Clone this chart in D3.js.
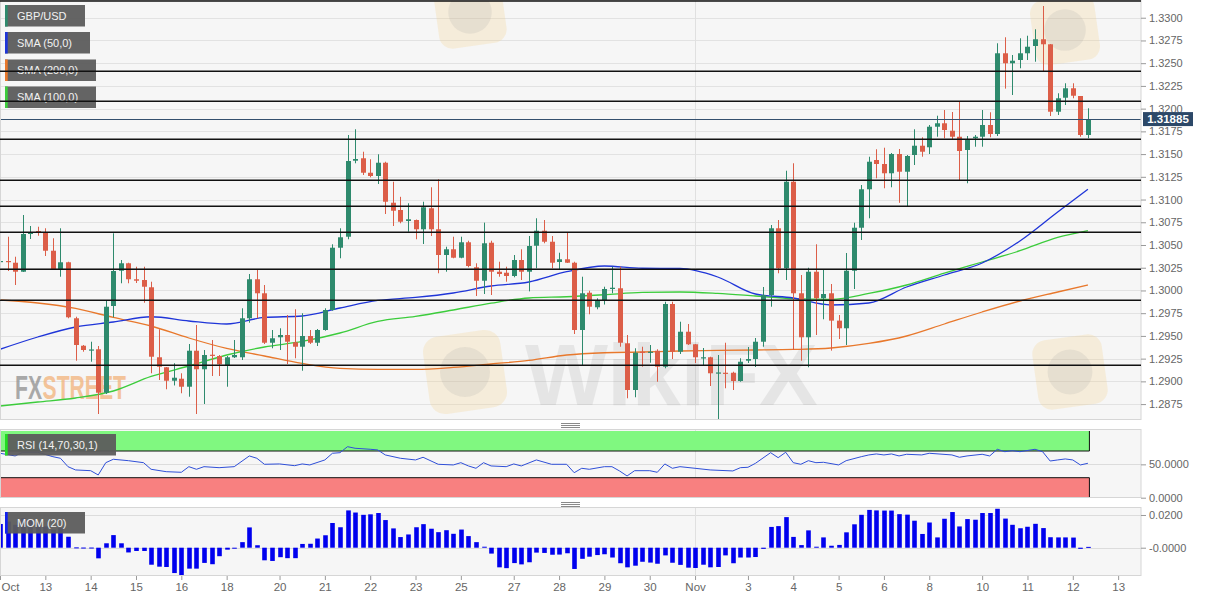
<!DOCTYPE html>
<html><head><meta charset="utf-8">
<script src="https://cdn.jsdelivr.net/npm/d3@7"></script>
<style>html,body{margin:0;padding:0;background:#fff;} svg{display:block;font-family:"Liberation Sans",Arial,sans-serif;}</style>
</head><body><svg id="c" width="1212" height="602"></svg>
<script>
// ---------- DATA (4h GBP/USD candles, index 0 = Oct 12 00:00) ----------
const open = [
1.30319,1.30324,1.30305,1.30206,1.30621,1.30654,1.3064,1.30437,1.30233,1.3031,
1.29694,1.29392,1.29345,1.29353,1.28875,1.29829,1.30217,1.30299,1.30123,1.30115,
1.30035,1.29265,1.29155,1.29007,1.29029,1.28941,1.29337,1.29133,1.29293,1.29279,
1.2918,1.29265,1.29265,1.29694,1.30123,1.29969,1.29425,1.29485,1.2951,1.2943,
1.29381,1.29499,1.29425,1.29565,1.29785,1.3047,1.30591,1.31427,1.31454,1.31295,
1.31259,1.31405,1.30965,1.30885,1.30764,1.30775,1.30673,1.30904,1.30673,1.3039,
1.30453,1.3036,1.3053,1.30255,1.30107,1.30525,1.30206,1.30195,1.30159,1.30335,
1.30206,1.30492,1.30657,1.30536,1.30313,1.30343,1.30305,1.29565,1.29975,1.29815,
1.29895,1.30016,1.30024,1.29419,1.28905,1.29326,1.2932,1.29337,1.29161,1.29851,
1.29326,1.29546,1.29408,1.29261,1.29265,1.29092,1.29095,1.29095,1.29004,1.29227,
1.29246,1.29436,1.2995,1.30684,1.30244,1.31196,1.29969,1.29485,1.30206,1.29914,
1.29969,1.29668,1.29584,1.30217,1.3069,1.31113,1.31435,1.31391,1.31289,1.31501,
1.31306,1.3149,1.31592,1.31575,1.31801,1.31839,1.31757,1.31691,1.31545,1.31674,
1.31691,1.3182,1.31721,1.32609,1.32499,1.32535,1.32609,1.32689,1.32763,1.32708,
1.31966,1.3212,1.32224,1.32139,1.3171];
const high = [
1.30368,1.30591,1.30371,1.3083,1.30709,1.30701,1.30684,1.30574,1.30684,1.30316,
1.29711,1.294,1.29436,1.29389,1.29895,1.30629,1.30335,1.30305,1.30261,1.30261,
1.30096,1.29573,1.29158,1.29199,1.29089,1.29411,1.2962,1.29345,1.29455,1.2929,
1.29279,1.29455,1.29804,1.30181,1.30236,1.3006,1.29565,1.29584,1.2973,1.29793,
1.29749,1.29565,1.29576,1.29804,1.30508,1.30684,1.3171,1.31773,1.31526,1.31443,
1.31498,1.31416,1.31196,1.3103,1.30959,1.3078,1.30976,1.31135,1.31223,1.30481,
1.30591,1.30591,1.30547,1.30299,1.30746,1.30547,1.30316,1.30261,1.3039,1.30453,
1.30599,1.30794,1.30775,1.30599,1.30415,1.30635,1.30316,1.30151,1.29997,1.29914,
1.30041,1.30261,1.30261,1.2951,1.29364,1.29381,1.294,1.29353,1.29876,1.29876,
1.29656,1.29631,1.29411,1.29367,1.29271,1.2929,1.29425,1.29106,1.29254,1.29378,
1.29477,1.30038,1.3072,1.30775,1.31317,1.31399,1.3017,1.3025,1.30508,1.30233,
1.30071,1.2973,1.30412,1.30745,1.3116,1.31471,1.31553,1.3157,1.31512,1.31556,
1.3149,1.31773,1.31685,1.3182,1.31922,1.31985,1.31963,1.32076,1.31699,1.3171,
1.31985,1.3196,1.32719,1.32785,1.3259,1.32774,1.32802,1.32873,1.33129,1.32711,
1.32169,1.32279,1.32279,1.32139,1.32004];
const low = [
1.30225,1.30214,1.3006,1.30203,1.30566,1.30602,1.30379,1.3023,1.30151,1.29694,
1.29227,1.29326,1.29216,1.28641,1.28861,1.29705,1.30079,1.30079,1.30082,1.29865,
1.29089,1.29015,1.28913,1.28955,1.28869,1.28831,1.28641,1.28751,1.29059,1.29059,
1.28941,1.29257,1.29235,1.29645,1.29694,1.29411,1.29364,1.29345,1.29191,1.29254,
1.29117,1.29411,1.29389,1.29557,1.29777,1.30354,1.30563,1.31399,1.3127,1.31245,
1.31171,1.30841,1.30709,1.30739,1.30646,1.30563,1.30511,1.30599,1.30189,1.30206,
1.30354,1.30354,1.30255,1.29939,1.29961,1.2995,1.30151,1.30096,1.30145,1.30115,
1.2999,1.30244,1.30519,1.30244,1.30233,1.30302,1.29521,1.2918,1.29738,1.29793,
1.29845,1.29969,1.29381,1.28814,1.28825,1.29161,1.29205,1.28996,1.29144,1.29246,
1.29301,1.294,1.29202,1.29169,1.28949,1.28575,1.28924,1.28905,1.28996,1.29202,
1.29158,1.29381,1.29821,1.30189,1.30115,1.29345,1.29227,1.29155,1.2951,1.29683,
1.29338,1.29466,1.294,1.30016,1.30555,1.30794,1.31234,1.31124,1.31135,1.30964,
1.30929,1.3138,1.31471,1.31501,1.31691,1.31674,1.31655,1.31215,1.31179,1.31581,
1.31581,1.31685,1.31699,1.3222,1.3215,1.32444,1.32535,1.32516,1.32406,1.31919,
1.3193,1.3204,1.32114,1.31691,1.31674];
const close = [
1.30324,1.30313,1.30206,1.30621,1.30643,1.30638,1.30437,1.30233,1.3031,1.29705,
1.294,1.29345,1.29351,1.28875,1.29821,1.30214,1.30299,1.30123,1.30107,1.30041,
1.29271,1.29161,1.29007,1.2904,1.28941,1.29337,1.29133,1.2929,1.29282,1.29188,
1.29265,1.2929,1.29694,1.30123,1.29969,1.29425,1.29474,1.2951,1.29436,1.29381,
1.29499,1.29425,1.29565,1.29785,1.3047,1.30585,1.31424,1.31446,1.31295,1.31259,
1.31405,1.30976,1.30877,1.30756,1.30783,1.30673,1.30915,1.30673,1.3039,1.30453,
1.3036,1.3053,1.30269,1.30107,1.30519,1.30206,1.30181,1.30159,1.30335,1.30206,
1.30489,1.30657,1.30536,1.30305,1.30343,1.30305,1.29565,1.29969,1.29821,1.29895,
1.30016,1.3003,1.29425,1.28905,1.29315,1.2932,1.29326,1.29161,1.29851,1.29326,
1.29546,1.29408,1.29265,1.29265,1.29089,1.29098,1.29089,1.29004,1.29216,1.29246,
1.29436,1.2995,1.30684,1.30244,1.31196,1.29969,1.29485,1.30206,1.29914,1.29961,
1.29668,1.29584,1.30217,1.3069,1.31113,1.31416,1.31391,1.31289,1.31501,1.31306,
1.31479,1.31592,1.31526,1.31801,1.31839,1.31765,1.31691,1.31534,1.31663,1.31691,
1.3182,1.31721,1.32609,1.32499,1.32527,1.32609,1.32681,1.32763,1.32708,1.31966,
1.32114,1.32224,1.32142,1.3171,1.31885];

// moving averages sampled at candle indices
const smaIdx = [0,5,10,15,20,25,30,35,40,45,50,55,60,65,70,75,80,85,90,95,100,105,110,115,120,125,130,135,140,144];
const sma50  = [1.29353,1.29488,1.29598,1.29653,1.29711,1.29664,1.29631,1.29703,1.29719,1.29807,1.2989,1.29923,1.29972,1.30049,1.30093,1.30206,1.30269,1.30244,1.30242,1.30148,1.29961,1.29917,1.2984,1.29862,1.30038,1.3017,1.30302,1.30544,1.30863,1.31113];
const sma100 = [1.28729,1.28773,1.28817,1.28894,1.29054,1.29169,1.2929,1.29378,1.29439,1.29532,1.29659,1.29714,1.29785,1.2986,1.29917,1.29931,1.29953,1.29978,1.29983,1.29967,1.29939,1.2991,1.29902,1.29967,1.3006,1.3019,1.30313,1.30437,1.30583,1.30657];
const sma200 = [1.29895,1.29862,1.29802,1.29703,1.29609,1.29477,1.29362,1.29279,1.29197,1.29142,1.29131,1.29131,1.29153,1.29191,1.2923,1.2929,1.29315,1.29323,1.29334,1.2934,1.29345,1.29351,1.29367,1.29417,1.29499,1.29631,1.29763,1.29884,1.29983,1.3006];

// horizontal support / resistance levels
const levels = [1.33184,1.32411,1.32081,1.31663,1.31212,1.30926,1.3064,1.30233,1.29892,1.29177];
const lastPrice = 1.31885;

// RSI (14) [candle index, value]
const rsiPoints = [[0,66.6],[2,62.6],[3,68.1],[5,68.1],[7,61.5],[8,59.1],[9,46.5],[10,41.6],[12,40.5],[13,34.1],[14,52.5],[15,57.6],[17,55.5],[19,52.5],[20,42.6],[22,39],[24,38.1],[25,46.5],[26,42.6],[27,46.5],[29,45],[31,46.5],[33,62.6],[34,59.1],[35,50.1],[37,50.6],[39,48],[40,50.6],[41,49.1],[43,56.6],[44,66.6],[45,67.5],[46,76.5],[47,74.1],[49,72.6],[50,71.6],[51,64.1],[53,59.1],[55,56.6],[56,60.6],[58,50.1],[60,49.1],[61,52.5],[62,47.6],[63,44.1],[64,52.5],[65,47.6],[67,46.5],[68,50.6],[69,47.6],[71,56.6],[73,50.1],[75,50.1],[76,37.5],[77,44.1],[78,42.6],[80,46.5],[81,46.5],[82,40.1],[83,32.6],[84,40.5],[86,40.5],[87,38.1],[88,50.6],[89,44.1],[90,46.5],[92,44.1],[94,41.6],[97,40.1],[98,45],[99,45.6],[100,51.6],[102,67.5],[103,60],[104,68.1],[105,52.5],[106,50.1],[107,55.5],[108,52.5],[109,53.1],[111,49.1],[112,55.5],[114,61.5],[115,64.1],[116,65.6],[117,64.1],[118,65.6],[119,62.6],[120,65.1],[122,64.1],[123,66.6],[126,64.1],[127,60.6],[128,62.6],[130,65.1],[131,62.6],[132,72.6],[133,69],[134,70.5],[135,69],[137,72.6],[138,69],[139,55],[140,56.6],[141,58.1],[142,56.6],[143,49.1],[144,51.6]];

// Momentum (20), one per candle
const mom = [
0.0145,0.016,0.014,0.018,0.017,0.015,0.013,0.011,0.012,0.0067,0.0002,0.0001,0.0001,-0.0065,0.0027,0.0077,0.0027,-0.0029,-0.002,-0.002,
-0.0104,-0.0116,-0.0118,-0.0155,-0.0168,-0.0128,-0.0128,-0.0093,-0.0101,-0.0052,-0.0012,-0.0005,0.0034,0.0124,0.0015,-0.0077,-0.0081,-0.0058,-0.0064,-0.0064,
0.0023,0.0024,0.0056,0.0076,0.0151,0.0125,0.0228,0.0215,0.0201,0.0204,0.0212,0.0169,0.0118,0.0065,0.0081,0.0125,0.0144,0.0116,0.0095,0.0107,
0.0085,0.0111,0.0071,0.0034,0.0006,-0.0036,-0.012,-0.0125,-0.0094,-0.0102,-0.0089,-0.003,-0.0032,-0.0043,-0.0042,-0.0034,-0.013,-0.0068,-0.0055,-0.0045,
-0.004,-0.006,-0.0095,-0.012,-0.011,-0.0086,-0.0091,-0.0098,-0.0047,-0.0092,-0.0105,-0.0122,-0.0124,-0.0104,-0.012,-0.0118,-0.0047,-0.0095,-0.006,-0.006,
-0.0057,-0.0007,0.0127,0.0132,0.0187,0.0066,0.0016,0.0106,0.0006,0.0063,0.0012,0.0017,0.0094,0.0143,0.0201,0.0231,0.0228,0.0227,0.0227,0.0205,
0.0202,0.0165,0.0084,0.0154,0.0063,0.0177,0.0218,0.013,0.0175,0.0171,0.0212,0.0212,0.0238,0.0178,0.014,0.0119,0.0128,0.0146,0.012,0.0064,
0.0063,0.0063,0.0062,-0.0007,0.0005];

// axis ticks
const priceTicks = [1.2875,1.29,1.2925,1.295,1.2975,1.30,1.3025,1.305,1.3075,1.31,1.3125,1.315,1.3175,1.32,1.3225,1.325,1.3275,1.33];
const dayIdx    = [0,6,12,18,24,30,37,43,49,55,61,68,74,80,86,92,99,105,111,117,123,130,136,142,148];
const dayLabels = ["Oct","13","14","15","16","18","20","21","22","23","25","27","28","29","30","Nov","3","4","5","6","8","10","11","12","13"];
const rsiTicks = [0,50];
const momTicks = [-0.000001,0.02];

// ---------- DRAW ----------
const PR = 1141;
const svg = d3.select('#c');
const x = d3.scaleLinear().domain([0,151]).range([0,1140.8]);
const yP = d3.scaleLinear().domain([1.28575,1.33195]).range([420,0]);
const yR = d3.scaleLinear().domain([0,100]).range([497.7,431]);
const yM = d3.scaleLinear().domain([-0.0173,0.0247]).range([576,507.3]);
const GREEN='#2e8a6d', RED='#dc5e48';

// panels
[[0,420],[429,498],[507,576]].forEach(([a,b])=>{
  svg.append('rect').attr('x',0).attr('y',a).attr('width',PR).attr('height',b-a).attr('fill','#f6f6f6');
});
// gridlines
svg.append('g').selectAll('line').data(priceTicks).join('line')
  .attr('x1',0).attr('x2',PR).attr('y1',d=>Math.round(yP(d))+0.5).attr('y2',d=>Math.round(yP(d))+0.5)
  .attr('stroke','#e2e2e2');
svg.append('line').attr('x1',0).attr('x2',PR).attr('y1',Math.round(yR(50))+0.5).attr('y2',Math.round(yR(50))+0.5).attr('stroke','#dcdcdc');
[0,0.02].forEach(v=>svg.append('line').attr('x1',0).attr('x2',PR).attr('y1',Math.round(yM(v))+0.5).attr('y2',Math.round(yM(v))+0.5).attr('stroke','#dcdcdc'));
// month gridline
[[0,420],[429,498],[507,576]].forEach(([a,b])=>svg.append('line').attr('x1',Math.round(x(92))+0.5).attr('x2',Math.round(x(92))+0.5).attr('y1',a).attr('y2',b).attr('stroke','#e0e0e0'));

// watermarks
const wm = svg.append('g').attr('pointer-events','none');
function logo(cx,cy,s){
  wm.append('rect').attr('x',cx-s/2).attr('y',cy-s/2).attr('width',s).attr('height',s).attr('rx',s*0.2)
    .attr('fill','#f3d28a').attr('opacity',0.26).attr('transform',`rotate(-8 ${cx} ${cy})`);
  wm.append('circle').attr('cx',cx).attr('cy',cy).attr('r',s*0.32).attr('fill','#9a9a9a').attr('opacity',0.16);
}
logo(465,372,78);
wm.append('text').attr('x',525).attr('y',405).attr('font-size',88).attr('font-weight','bold')
  .attr('fill','#8c8c8c').attr('opacity',0.15).text('WikiFX');
logo(470,12,68);
logo(1070,372,70);
logo(1065,30,65);
// FXSTREET (condensed by a horizontal scale)
const fxg = wm.append('g').attr('transform','translate(15,399) scale(0.64,1)').attr('opacity',0.75);
const fxA = fxg.append('text').attr('x',0).attr('y',0).attr('font-size',33).attr('font-weight','bold').attr('fill','#8f8f8f').text('FX');
const fxW = fxA.node().getComputedTextLength();
fxg.append('text').attr('x',fxW+1).attr('y',0).attr('font-size',33).attr('font-weight','bold').attr('fill','#f3b27a').text('STREET');

// SMA lines
function smaLine(vals,color){
  const line = d3.line().x((d,i)=>x(smaIdx[i])).y(d=>yP(d)).curve(d3.curveMonotoneX);
  svg.append('path').attr('d',line(vals)).attr('fill','none').attr('stroke',color).attr('stroke-width',1.3);
}
smaLine(sma200,'#e8782c');
smaLine(sma100,'#3ccc3c');
smaLine(sma50,'#1f35d8');

// candles
const cg = svg.append('g');
d3.range(open.length).forEach(i=>{
  const up = close[i] >= open[i];
  const col = up ? GREEN : RED;
  const cx = Math.round(x(i))+0.5;
  cg.append('line').attr('x1',cx).attr('x2',cx).attr('y1',yP(high[i])).attr('y2',yP(low[i])).attr('stroke',col).attr('stroke-width',1);
  const yt = yP(Math.max(open[i],close[i])), yb = yP(Math.min(open[i],close[i]));
  cg.append('rect').attr('x',cx-2.5).attr('y',yt).attr('width',5).attr('height',Math.max(1.2,yb-yt)).attr('fill',col);
});

// current price line
svg.append('line').attr('x1',0).attr('x2',PR).attr('y1',Math.round(yP(lastPrice))+0.5).attr('y2',Math.round(yP(lastPrice))+0.5)
  .attr('stroke','#34506e').attr('stroke-width',1);

// RSI bands
const bandR = x(open.length-1)+1.5;
svg.append('rect').attr('x',0).attr('y',yR(100)).attr('width',bandR).attr('height',yR(70)-yR(100)).attr('fill','#80f880');
svg.append('rect').attr('x',0).attr('y',yR(30)).attr('width',bandR).attr('height',yR(0)-yR(30)).attr('fill','#f88080');
svg.append('path').attr('d',`M0,${yR(70)}H${bandR}V${yR(100)}`).attr('fill','none').attr('stroke','#111').attr('stroke-width',1);
svg.append('path').attr('d',`M0,${yR(30)}H${bandR}V${yR(0)}`).attr('fill','none').attr('stroke','#111').attr('stroke-width',1);
// RSI line
svg.append('path').attr('d',d3.line().x(d=>x(d[0])).y(d=>yR(d[1]))(rsiPoints))
  .attr('fill','none').attr('stroke','#2f4fd8').attr('stroke-width',1);

// MOM bars
svg.append('g').selectAll('rect').data(mom).join('rect')
  .attr('x',(d,i)=>Math.round(x(i))-1.8).attr('width',4.6)
  .attr('y',d=>Math.min(yM(d),yM(0)))
  .attr('height',d=>Math.max(1,Math.abs(yM(d)-yM(0))))
  .attr('fill','#0000ee');

// panel borders
[[0,420],[429,498],[507,576]].forEach(([a,b])=>{
  svg.append('rect').attr('x',0.5).attr('y',a+0.5).attr('width',PR-0.5).attr('height',b-a-1)
    .attr('fill','none').attr('stroke','#d6d6d6');
});
// resize handles
[424,503].forEach(yy=>{
  [0,2,4].forEach(k=>svg.append('line').attr('x1',561).attr('x2',580).attr('y1',yy+k-0.5).attr('y2',yy+k-0.5).attr('stroke','#8a8a8a').attr('stroke-width',1));
});

// axes
function styleAxis(g){
  g.selectAll('.domain').remove();
  g.selectAll('.tick line').attr('stroke','#9a9a9a');
  g.selectAll('.tick text').attr('fill','#666').attr('font-size',11).attr('font-family','"Liberation Sans",Arial,sans-serif');
}
const ap = svg.append('g').attr('transform',`translate(${PR},0)`)
  .call(d3.axisRight(yP).tickValues(priceTicks).tickFormat(d=>d.toFixed(4)).tickSize(5).tickPadding(3));
styleAxis(ap);
const ar = svg.append('g').attr('transform',`translate(${PR},0)`)
  .call(d3.axisRight(yR).tickValues(rsiTicks).tickFormat(d=>d.toFixed(4)).tickSize(5).tickPadding(3));
styleAxis(ar);
const am = svg.append('g').attr('transform',`translate(${PR},0)`)
  .call(d3.axisRight(yM).tickValues(momTicks).tickFormat(d=>d.toFixed(4)).tickSize(5).tickPadding(3));
styleAxis(am);
const ax = svg.append('g').attr('transform','translate(0,576)')
  .call(d3.axisBottom(x).tickValues(dayIdx).tickFormat((d,i)=>dayLabels[i]).tickSize(4).tickPadding(3));
styleAxis(ax);
ax.selectAll('.tick text').attr('font-size',11.5);
ax.selectAll('.tick').filter((d,i)=>i===0).select('text').attr('text-anchor','start').attr('x',1);

// last price tag
const ly = yP(lastPrice);
svg.append('rect').attr('x',1143).attr('y',ly-7).attr('width',50).attr('height',14).attr('fill','#2c4868');
svg.append('text').attr('x',1168).attr('y',ly).attr('dy','0.35em').attr('text-anchor','middle')
  .attr('fill','#fff').attr('font-weight','bold').attr('font-size',11.5).text(lastPrice.toFixed(5));

// legend boxes
const legends = [
  {t:'GBP/USD', c:'#2e8a6d', y:5, w:80},
  {t:'SMA (50,0)', c:'#1f35d8', y:32, w:85},
  {t:'SMA (200,0)', c:'#e8782c', y:59.5, w:91},
  {t:'SMA (100,0)', c:'#3ccc3c', y:86.5, w:91},
  {t:'RSI (14,70,30,1)', c:'#22dd22', y:434, w:111},
  {t:'MOM (20)', c:'#1020ee', y:512, w:80}
];
legends.forEach(l=>{
  svg.append('rect').attr('x',5).attr('y',l.y).attr('width',l.w).attr('height',21.5).attr('fill','#5c5c5c').attr('opacity',0.95);
  svg.append('rect').attr('x',5).attr('y',l.y).attr('width',2.7).attr('height',21.5).attr('fill',l.c);
  svg.append('text').attr('x',17).attr('y',l.y+10.9).attr('dy','0.35em').attr('fill','#f2f2f2').attr('font-size',11).text(l.t);
});

// level lines (drawn on top)
svg.append('g').selectAll('line').data(levels).join('line')
  .attr('x1',0).attr('x2',PR).attr('y1',d=>yP(d)).attr('y2',d=>yP(d))
  .attr('stroke','#111').attr('stroke-width',1.4);
</script></body></html>
